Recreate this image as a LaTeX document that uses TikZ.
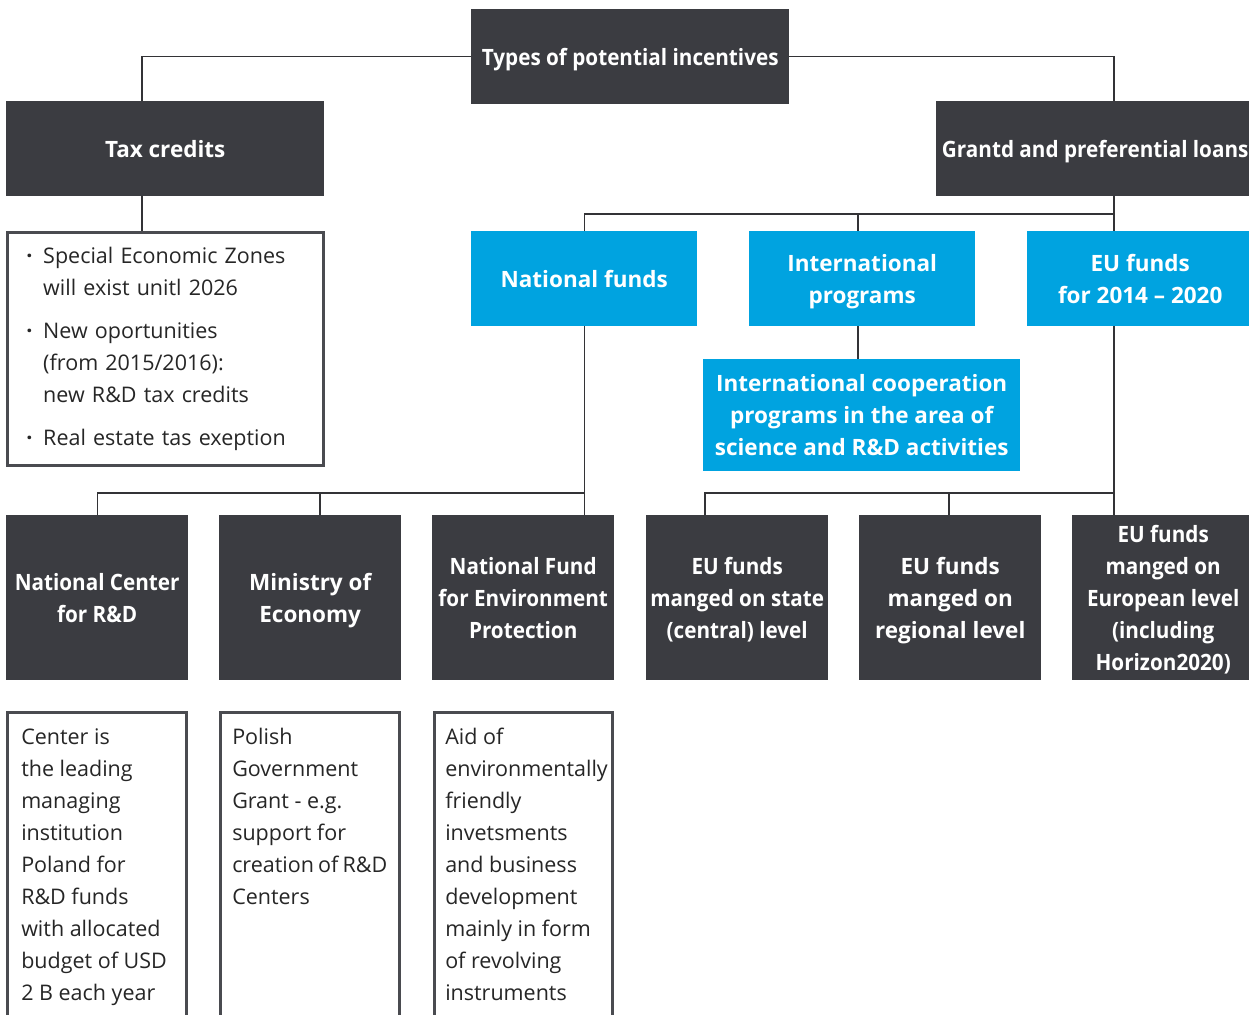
\documentclass[tikz,border=0pt]{standalone}
\usepackage{fontspec}
\setmainfont{Open Sans}
\newfontfamily\narrowfont[FakeStretch=0.92]{Open Sans}
\usetikzlibrary{positioning}

\definecolor{boxdark}{HTML}{3B3C41}
\definecolor{boxblue}{HTML}{00A3E0}
\definecolor{framegray}{HTML}{4A4B50}
\definecolor{linegray}{HTML}{333336}
\definecolor{bodytext}{HTML}{262626}

\newcommand{\descbox}[2]{\parbox[t][330pt][t]{#1}{\raggedright #2}}
\newcommand{\dotitem}{\makebox[17pt][l]{\textbf{·}}}

\begin{document}
\begin{tikzpicture}[x=1pt,y=-1pt,
  box/.style={anchor=north west,inner sep=0pt,align=center,text=white,
    text depth=0pt,font=\fontsize{22.5}{32}\selectfont\bfseries},
  dark node/.style={box,fill=boxdark},
  blue node/.style={box,fill=boxblue},
  note node/.style={anchor=north west,draw=framegray,line width=2.5pt,
    text=bodytext,font=\fontsize{21.5}{32}\selectfont},
  link/.style={draw=linegray,line width=1.3pt}]

  \useasboundingbox[fill=white] (0,0) rectangle (1249,1014);

  % columns of the connectors
  \coordinate (colA) at (142,0);
  \coordinate (colM) at (320,0);
  \coordinate (colS) at (705,0);
  \coordinate (colI) at (858,0);
  \coordinate (colR) at (949,0);
  \coordinate (colG) at (1114,0);
  \coordinate (busG) at (0,214);
  \coordinate (busN) at (0,493);

  % top levels
  \node[dark node,minimum width=318,minimum height=95] (top) at (471,9)
    {\narrowfont\bfseries Types of potential incentives};
  \node[dark node,minimum width=318,minimum height=95] (tax) at (6,101) {Tax credits};
  \node[dark node,minimum width=318,minimum height=95] (grant) at (936,101)
    {\narrowfont\bfseries Grantd and preferential loans};

  \node[note node,minimum height=233,inner xsep=19pt,inner ysep=0pt,
        text width=278,align=left,yshift=-2pt] (bullets) at (6,229)
    {\dotitem Special Economic Zones\\
     \hspace*{17pt}will exist unitl 2026\\[11pt]
     \dotitem New oportunities\\
     \hspace*{17pt}(from 2015/2016):\\
     \hspace*{17pt}new R\&D tax credits\\[11pt]
     \dotitem Real estate tas exeption};

  % blue level
  \node[blue node,minimum width=226,minimum height=95] (nat) at (471,231) {National funds};
  \node[blue node,minimum width=226,minimum height=95] (intl) at (749,231) {International\\programs};
  \node[blue node,minimum width=226,minimum height=95] (eu) at (1027,231) {EU funds\\for 2014 -- 2020};
  \node[blue node,minimum width=317,minimum height=112] (coop) at (703,359)
    {International cooperation\\programs in the area of\\science and R\&D activities};

  % bottom level
  \node[dark node,minimum width=182,minimum height=165] (ncrd) at (6,515)
    {\narrowfont\bfseries National Center\\\narrowfont\bfseries for R\&D};
  \node[dark node,minimum width=182,minimum height=165] (ministry) at (219,515) {Ministry of\\Economy};
  \node[dark node,minimum width=182,minimum height=165] (envfund) at (432,515)
    {\narrowfont\bfseries National Fund\\\narrowfont\bfseries for Environment\\\narrowfont\bfseries Protection};
  \node[dark node,minimum width=182,minimum height=165] (state) at (646,515)
    {\narrowfont\bfseries EU funds\\\narrowfont\bfseries manged on state\\\narrowfont\bfseries (central) level};
  \node[dark node,minimum width=182,minimum height=165] (regional) at (859,515) {EU funds\\manged on\\regional level};
  \node[dark node,minimum width=182,minimum height=165] (euro) at (1072,515)
    {\narrowfont\bfseries EU funds\\\narrowfont\bfseries manged on\\\narrowfont\bfseries European level\\\narrowfont\bfseries (including\\\narrowfont\bfseries Horizon2020)};

  % descriptions
  \node[note node,inner xsep=14pt,inner ysep=16pt] (ncrdtxt) at (6,711)
    {\descbox{151pt}{Center is\\the leading\\managing\\institution\\Poland for\\R\&D funds\\with allocated\\budget of USD\\2 B each year}};
  \node[note node,inner xsep=12pt,inner ysep=16pt] (ministrytxt) at (219,711)
    {\descbox{155pt}{Polish\\Government\\Grant - e.g.\\support for\\creation~of~R\&D\\Centers}};
  \node[note node,inner xsep=11pt,inner ysep=16pt] (envfundtxt) at (433,711)
    {\descbox{156pt}{Aid of\\environmentally\\friendly\\invetsments\\and business\\development\\mainly in form\\of revolving\\instruments}};

  % connectors
  \draw[link] (top.west) -| (colA |- tax.north);
  \draw[link] (top.east) -| (colG |- grant.north);
  \draw[link] (colA |- tax.south) -- (colA |- bullets.north);
  \draw[link] (colG |- grant.south) -- (colG |- eu.north);
  \draw[link] (nat.north) |- (colG |- busG);
  \draw[link] (colI |- busG) -- (colI |- intl.north);
  \draw[link] (colI |- intl.south) -- (colI |- coop.north);
  \draw[link] (nat.south) -- (nat.south |- envfund.north);
  \draw[link] (ncrd.north) |- (nat.south |- busN);
  \draw[link] (colM |- busN) -- (colM |- ministry.north);
  \draw[link] (colG |- eu.south) -- (colG |- euro.north);
  \draw[link] (colS |- state.north) |- (colG |- busN);
  \draw[link] (colR |- busN) -- (colR |- regional.north);
\end{tikzpicture}
\end{document}
